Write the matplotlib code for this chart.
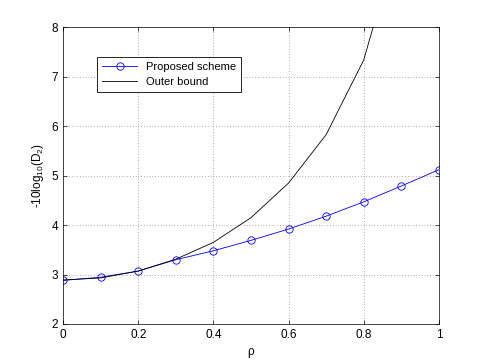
import matplotlib
matplotlib.use("Agg")
import matplotlib.pyplot as plt
import numpy as np

plt.rcParams['font.family'] = ['Liberation Sans', 'DejaVu Sans']
plt.rcParams['mathtext.default'] = 'regular'
plt.rcParams['font.size'] = 8

# Data.
rho = [0.0, 0.1, 0.2, 0.3, 0.4, 0.5, 0.6, 0.7, 0.8, 0.9, 1.0]
proposed = [2.88, 2.945, 3.07, 3.30, 3.48, 3.69, 3.92, 4.18, 4.47, 4.79, 5.12]
outer = [2.89, 2.93, 3.07, 3.31, 3.65, 4.15, 4.85, 5.83, 7.34, 10.0, 14.0]

fig = plt.figure(figsize=(4.85, 3.64), dpi=100)
ax = fig.add_axes([0.13, 0.11, 0.775, 0.815])

ax.plot(rho, proposed, '-o', color='#0000ff', lw=0.6, ms=5.3,
        mfc='none', mew=0.6, label='Proposed scheme')
ax.plot(rho, outer, '-', color='black', lw=0.6, label='Outer bound')

ax.set_xlim(0, 1)
ax.set_ylim(2, 8)
ax.set_xticks(np.arange(0, 1.01, 0.2))
ax.set_xticklabels(['0', '0.2', '0.4', '0.6', '0.8', '1'])
ax.set_yticks(np.arange(2, 9, 1))
ax.tick_params(direction='in', top=True, right=True, length=3, width=0.5,
               labelsize=8.5)
for s in ax.spines.values():
    s.set_linewidth(0.5)
ax.grid(True, linestyle=(0, (1, 3)), color='#666666', lw=0.5)

ax.set_xlabel('ρ', fontsize=8.5)
ax.set_ylabel(r'-10log$_{10}$(D$_2$)', fontsize=8.5)

leg = ax.legend(loc='upper left', bbox_to_anchor=(0.0896, 0.901),
                borderaxespad=0, fancybox=False, edgecolor='black',
                framealpha=1, fontsize=8, handlelength=3.2,
                borderpad=0.45, labelspacing=0.45)
leg.get_frame().set_linewidth(0.6)

fig.savefig('out.png', dpi=100)
